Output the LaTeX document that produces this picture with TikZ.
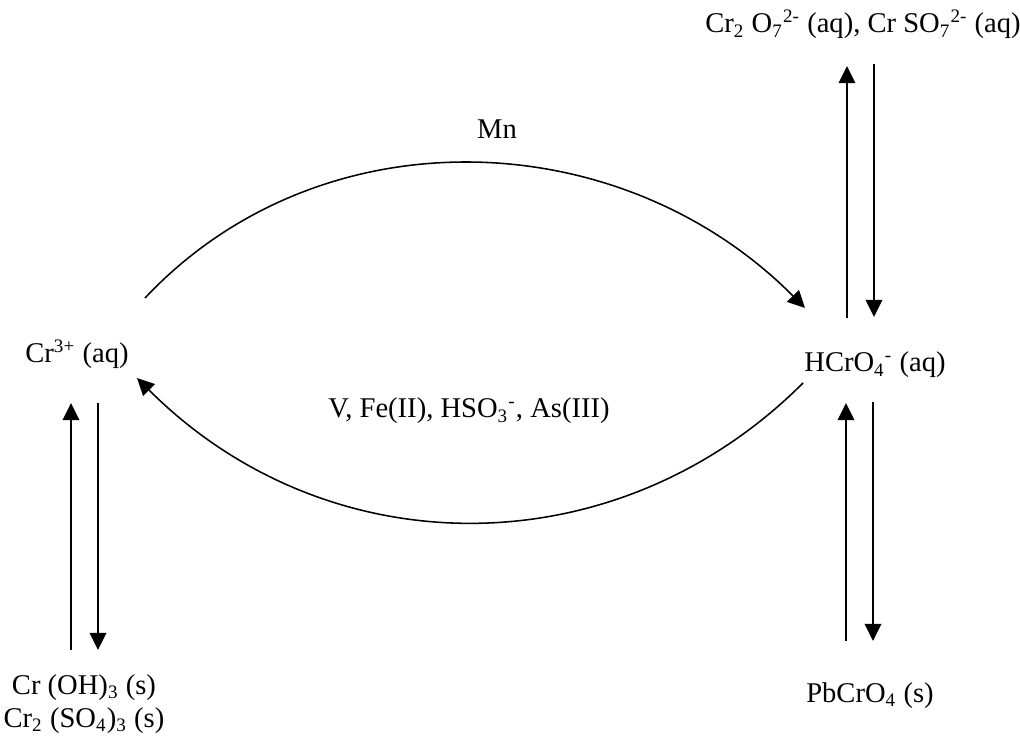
\documentclass[tikz,border=0pt]{standalone}
\usepackage{fontspec}
\setmainfont{Liberation Serif}
\usetikzlibrary{arrows.meta}

\begin{document}
\begin{tikzpicture}[
  x=0.42pt, y=-0.42pt,
  font=\fontsize{12}{14}\selectfont,
  spec/.style={anchor=base, inner sep=0pt, align=center},
  arr/.style={-{Triangle[width=7pt,length=7.2pt]}, line width=0.65pt}]
\useasboundingbox (0,0) rectangle (1020,737);
% species
\node[spec] (dich) at (863,33) {Cr\textsubscript{2} O\textsubscript{7}\textsuperscript{2-} (aq), Cr SO\textsubscript{7}\textsuperscript{2-} (aq)};
\node[spec] (cr3) at (77,363) {Cr\textsuperscript{3+} (aq)};
\node[spec] (hcro4) at (875,372) {HCrO\textsubscript{4}\textsuperscript{-} (aq)};
\node[spec, anchor=north] (solid) at (84,674) {Cr (OH)\textsubscript{3} (s)\\[0pt] Cr\textsubscript{2} (SO\textsubscript{4})\textsubscript{3} (s)};
\node[spec] (pb) at (870,702) {PbCrO\textsubscript{4} (s)};
\node[spec] (mn) at (497,139) {Mn};
\node[spec] (red) at (469,418) {V, Fe(II), HSO\textsubscript{3}\textsuperscript{-}, As(III)};
% arrow ends
\coordinate (ox1) at (145,298);
\coordinate (ox2) at (805,308);
\coordinate (rd1) at (803,383);
\coordinate (rd2) at (137,378);
% oxidation and reduction
\draw[arr] (ox1) .. controls (320,112) and (620,122) .. (ox2);
\draw[arr] (rd1) .. controls (617,569) and (328,569) .. (rd2);
% Cr(III) <-> solids
\draw[arr] (71,650) -- (71,403);
\draw[arr] (98,403) -- (98,650);
% HCrO4 <-> dichromate
\draw[arr] (847,318) -- (847,66);
\draw[arr] (874,64) -- (874,317);
% HCrO4 <-> PbCrO4
\draw[arr] (846,641) -- (846,403);
\draw[arr] (873,402) -- (873,641);
\end{tikzpicture}
\end{document}
